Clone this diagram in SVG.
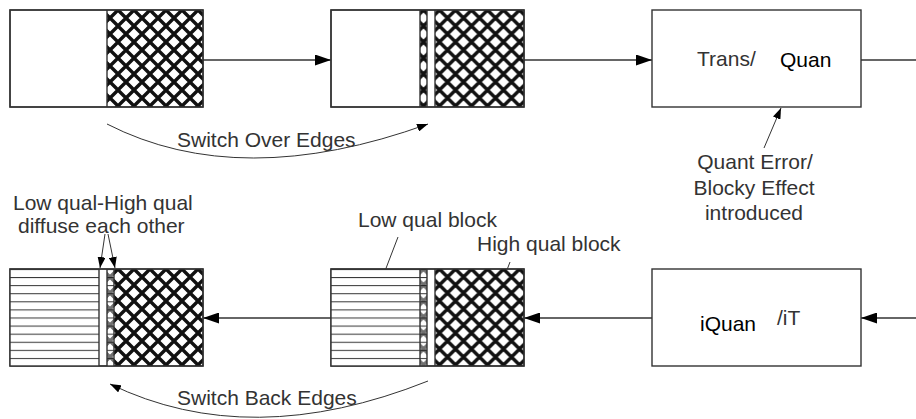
<svg xmlns="http://www.w3.org/2000/svg" width="916" height="419" viewBox="0 0 916 419">
<style>
  .box { fill: #fff; stroke: #333; stroke-width: 1.4; }
  .div { fill: none; stroke: #333; stroke-width: 1.4; }
  .conn { fill: none; stroke: #333; stroke-width: 1.4; }
  .thin { fill: none; stroke: #333; stroke-width: 1; }
  .lbl { font-family: "Liberation Sans", Arial, sans-serif; font-size: 21px; fill: #333; }
  .blk { font-family: "Liberation Sans", Arial, sans-serif; font-size: 21px; fill: #000; }
  .hl { stroke: #111; stroke-width: 3.4; fill: none; }
</style>
<defs>
  <pattern id="hatchA" patternUnits="userSpaceOnUse" x="6" y="10" width="16" height="16">
    <path class="hl" d="M-4,-4 L20,20 M-8,8 L8,24 M8,-8 L24,8 M20,-4 L-4,20 M-8,8 L8,-8 M8,24 L24,8"/>
  </pattern>
  <pattern id="hatchB" patternUnits="userSpaceOnUse" x="7.5" y="10" width="16" height="16">
    <path class="hl" d="M-4,-4 L20,20 M-8,8 L8,24 M8,-8 L24,8 M20,-4 L-4,20 M-8,8 L8,-8 M8,24 L24,8"/>
  </pattern>
  <pattern id="hatchC" patternUnits="userSpaceOnUse" x="6" y="269" width="16" height="16">
    <path class="hl" d="M-4,-4 L20,20 M-8,8 L8,24 M8,-8 L24,8 M20,-4 L-4,20 M-8,8 L8,-8 M8,24 L24,8"/>
  </pattern>
  <pattern id="hatchD" patternUnits="userSpaceOnUse" x="7.5" y="269" width="16" height="16">
    <path class="hl" d="M-4,-4 L20,20 M-8,8 L8,24 M8,-8 L24,8 M20,-4 L-4,20 M-8,8 L8,-8 M8,24 L24,8"/>
  </pattern>
  <pattern id="stripes" patternUnits="userSpaceOnUse" x="0" y="269" width="10" height="8.083">
    <rect x="0" y="0" width="10" height="8.083" fill="#fff"/>
    <line x1="0" y1="0" x2="10" y2="0" stroke="#333" stroke-width="2"/>
  </pattern>
  <marker id="arr" markerUnits="userSpaceOnUse" markerWidth="16" markerHeight="11" refX="16" refY="5.5" orient="auto">
    <path d="M0,0 L16,5.5 L0,11 z" fill="#000"/>
  </marker>
  <marker id="arrs" markerUnits="userSpaceOnUse" markerWidth="11" markerHeight="8" refX="11" refY="4" orient="auto">
    <path d="M0,0 L11,4 L0,8 z" fill="#000"/>
  </marker>
</defs>

<g id="connectors">
  <path class="conn" d="M203,60 H331" marker-end="url(#arr)"/>
  <path class="conn" d="M524,60 H652" marker-end="url(#arr)"/>
  <path class="conn" d="M861,60 H916"/>
  <path class="conn" d="M916,318 H861" marker-end="url(#arr)"/>
  <path class="conn" d="M652,318 H524" marker-end="url(#arr)"/>
  <path class="conn" d="M331,318 H203" marker-end="url(#arr)"/>
  <path class="thin" d="M107,124 Q240,192 428,124" marker-end="url(#arrs)"/>
  <path class="thin" d="M428,381 Q250,452 110,384" marker-end="url(#arrs)"/>
  <path class="thin" d="M764,148 L781,108" marker-end="url(#arrs)"/>
  <path class="thin" d="M105,234 L100,268" marker-end="url(#arrs)"/>
  <path class="thin" d="M108,234 L115,268" marker-end="url(#arrs)"/>
  <path class="thin" d="M398,237 L380,284" marker-end="url(#arrs)"/>
  <path class="thin" d="M510,262 L494,304" marker-end="url(#arrs)"/>
</g>

<g id="block1">
  <rect class="box" x="10" y="10" width="193" height="97"/>
  <rect x="107" y="10" width="96" height="97" fill="url(#hatchA)"/>
  <rect class="div" x="10" y="10" width="193" height="97"/>
  <line class="div" x1="107" y1="10" x2="107" y2="107"/>
</g>

<g id="block2">
  <rect class="box" x="331" y="10" width="193" height="97"/>
  <rect x="420" y="10" width="7" height="97" fill="url(#hatchB)"/>
  <rect x="435" y="10" width="89" height="97" fill="url(#hatchB)"/>
  <rect class="div" x="331" y="10" width="193" height="97"/>
  <line class="div" x1="420" y1="10" x2="420" y2="107"/>
  <line class="div" x1="427" y1="10" x2="427" y2="107"/>
  <line class="div" x1="435" y1="10" x2="435" y2="107"/>
</g>

<g id="transquan">
  <rect class="box" x="652" y="10" width="209" height="97"/>
  <text class="lbl" x="697" y="66">Trans/</text>
  <text class="blk" x="780" y="67">Quan</text>
</g>

<g id="quant-error-label">
  <text class="lbl" x="755" y="169" text-anchor="middle">Quant Error/</text>
  <text class="lbl" x="754" y="195" text-anchor="middle">Blocky Effect</text>
  <text class="lbl" x="754" y="220" text-anchor="middle">introduced</text>
</g>

<g id="switch-over-label">
  <text class="lbl" x="177" y="147">Switch Over Edges</text>
</g>

<g id="block3">
  <rect class="box" x="10" y="269" width="193" height="97"/>
  <rect x="10" y="269" width="89" height="97" fill="url(#stripes)"/>
  <rect x="107" y="269" width="7" height="97" fill="url(#stripes)"/>
  <rect x="107" y="269" width="7" height="97" fill="url(#hatchC)" opacity="0.6"/>
  <rect x="114" y="269" width="89" height="97" fill="url(#hatchC)"/>
  <rect class="div" x="10" y="269" width="193" height="97"/>
  <line class="div" x1="99" y1="269" x2="99" y2="366"/>
  <line class="div" x1="107" y1="269" x2="107" y2="366"/>
  <line class="div" x1="114" y1="269" x2="114" y2="366"/>
</g>

<g id="diffuse-label">
  <text class="lbl" x="13" y="210">Low qual-High qual</text>
  <text class="lbl" x="18" y="233">diffuse each other</text>
</g>

<g id="block4">
  <rect class="box" x="331" y="269" width="193" height="97"/>
  <rect x="331" y="269" width="89" height="97" fill="url(#stripes)"/>
  <rect x="420" y="269" width="7" height="97" fill="url(#stripes)"/>
  <rect x="420" y="269" width="7" height="97" fill="url(#hatchD)" opacity="0.6"/>
  <rect x="435" y="269" width="89" height="97" fill="url(#hatchD)"/>
  <rect class="div" x="331" y="269" width="193" height="97"/>
  <line class="div" x1="420" y1="269" x2="420" y2="366"/>
  <line class="div" x1="427" y1="269" x2="427" y2="366"/>
  <line class="div" x1="435" y1="269" x2="435" y2="366"/>
</g>

<g id="block-labels">
  <text class="lbl" x="358" y="227">Low qual block</text>
  <text class="lbl" x="477" y="251">High qual block</text>
</g>

<g id="iquan">
  <rect class="box" x="652" y="269" width="209" height="97"/>
  <text class="blk" x="700" y="331">iQuan</text>
  <text class="lbl" x="777" y="325">/iT</text>
</g>

<g id="switch-back-label">
  <text class="lbl" x="177" y="405">Switch Back Edges</text>
</g>
</svg>
